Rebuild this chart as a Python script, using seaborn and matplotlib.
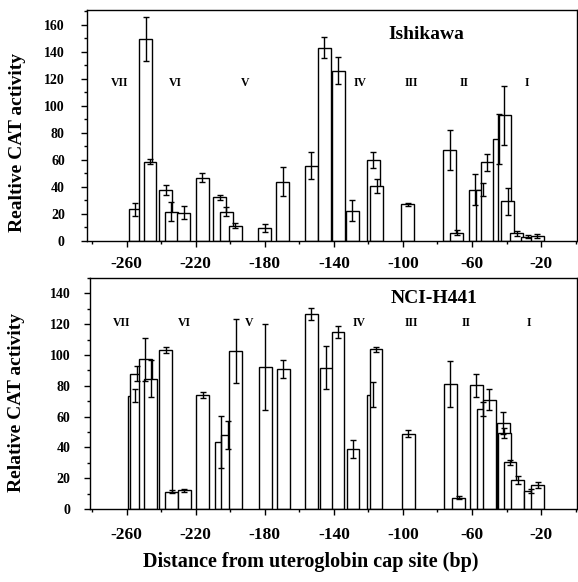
import matplotlib
matplotlib.use("Agg")
import matplotlib.pyplot as plt
import seaborn as sns
from matplotlib.ticker import MultipleLocator

# ---------------- data ----------------
top_pos = [-255.2, -249.1, -246.5, -237.3, -234.1, -226.9, -216.2, -206.1, -202.3, -197.1,
           -180.1, -169.7, -153.2, -145.7, -137.6, -129.5, -117.1, -115.3, -97.1, -72.8,
           -68.8, -58.1, -53.9, -51.3, -44.2, -41.3, -39.2, -34.1, -27.6, -22.1]
top_val = [23.5, 149.6, 58.8, 37.8, 21.7, 21.0, 47.0, 32.3, 21.7, 11.4,
           9.6, 44.0, 55.6, 143.2, 126.2, 22.5, 60.0, 40.7, 27.2, 67.4,
           6.2, 38.0, 38.0, 58.3, 75.3, 93.0, 29.6, 5.7, 3.2, 3.7]
top_err = [5, 16, 2, 3.5, 7, 5, 3, 2, 3.5, 2,
           3, 11, 10, 8, 10, 8, 6, 5, 1, 15,
           2, 11.5, 5, 6.4, 18.5, 21.8, 10, 2, 1.2, 1.8]

bot_pos = [-255.2, -254.0, -249.1, -246.0, -237.3, -233.8, -226.6, -215.9, -205.2, -201.4,
           -196.8, -179.8, -169.4, -153.2, -144.5, -137.6, -128.9, -117.3, -115.6, -96.8,
           -72.5, -67.6, -57.4, -53.6, -50.0, -42.0, -41.4, -38.0, -33.5, -26.0, -21.9]
bot_val = [73.7, 87.8, 97.1, 84.7, 103.0, 11.3, 12.1, 73.9, 43.3, 48.1,
           102.5, 92.1, 91.0, 126.8, 91.7, 115.1, 39.0, 74.3, 103.6, 49.0,
           81.3, 7.2, 80.2, 65.0, 70.9, 55.7, 49.4, 30.3, 18.9, 11.9, 15.6]
bot_err = [4, 5, 14, 12, 2, 1, 1, 2, 17, 9,
           21, 28, 6, 4, 14, 4, 6, 8, 1.5, 2,
           15, 1, 7.6, 4.3, 6.7, 7, 3, 1.5, 2.7, 1.3, 2]

regions = ["VII", "VI", "V", "IV", "III", "II", "I"]
top_region_x = [-263.9, -231.7, -191.6, -125.1, -95.3, -64.4, -28.0]
bot_region_x = [-262.9, -226.3, -189.1, -125.1, -95.3, -63.5, -26.9]

xticks = [-260, -220, -180, -140, -100, -60, -20]
top_title = "Ishikawa"
bot_title = "NCI-H441"
top_ylabel = "Realtive CAT activity"
bot_ylabel = "Relative CAT activity"
xlabel = "Distance from uteroglobin cap site (bp)"

# ---------------- style ----------------
sns.set_theme(style="ticks")
serif = ["Liberation Serif", "DejaVu Serif"]
plt.rcParams.update({
    "font.family": serif,
    "font.weight": "bold",
    "axes.unicode_minus": False,
    "text.color": "black",
    "axes.labelcolor": "black",
    "xtick.color": "black",
    "ytick.color": "black",
    "axes.edgecolor": "black",
})

fig = plt.figure(figsize=(5.78, 5.82), dpi=100)
W, H = 578, 582
ax1 = fig.add_axes([87 / W, (H - 241) / H, 490 / W, 231 / H])
ax2 = fig.add_axes([90 / W, (H - 509) / H, 487 / W, 231 / H])


def draw(ax, pos, val, err, rx, ry, title, tx, ty, ylabel, ylim, xlim, ypad, xpad):
    ax.bar(pos, val, width=7.5, color="white", edgecolor="black", linewidth=1.0,
           zorder=2)
    ax.errorbar(pos, val, yerr=err, fmt="none", ecolor="black", elinewidth=1.0,
                capsize=2.5, capthick=1.0, zorder=3)
    for lab, x in zip(regions, rx):
        ax.text(x, ry, lab, ha="center", va="center", fontsize=8.5,
                fontweight="bold", color="black")
    ax.text(tx, ty, title, transform=ax.transAxes, ha="center", va="center",
            fontsize=14, fontweight="bold", color="black")
    ax.set_xlim(*xlim)
    ax.set_ylim(*ylim)
    ax.set_xticks(xticks)
    ax.xaxis.set_minor_locator(MultipleLocator(20))
    ax.yaxis.set_major_locator(MultipleLocator(20))
    ax.yaxis.set_minor_locator(MultipleLocator(10))
    ax.tick_params(axis="x", which="major", direction="out", length=4, width=1,
                   labelsize=12.5, pad=xpad, colors="black")
    ax.tick_params(axis="x", which="minor", direction="out", length=2.5, width=1,
                   colors="black")
    ax.tick_params(axis="y", which="major", direction="out", length=4, width=1,
                   labelsize=10, pad=ypad, colors="black")
    ax.tick_params(axis="y", which="minor", direction="out", length=2.5, width=1,
                   colors="black")
    for lab in ax.get_xticklabels() + ax.get_yticklabels():
        lab.set_fontweight("bold")
    for sp in ax.spines.values():
        sp.set_visible(True)
        sp.set_color("black")
        sp.set_linewidth(1.0)
    ax.set_ylabel(ylabel, fontsize=14, fontweight="bold", color="black")
    ax.set_facecolor("white")


draw(ax1, top_pos, top_val, top_err, top_region_x, 117, top_title, 0.692, 0.892,
     top_ylabel, (0, 171), (-283, 0.8), 12, 7)
draw(ax2, bot_pos, bot_val, bot_err, bot_region_x, 121, bot_title, 0.706, 0.913,
     bot_ylabel, (0, 150), (-281.2, 0.8), 10, 9)

ax1.yaxis.set_label_coords((26 - 87) / 490, (241 - 142) / 231)
ax2.yaxis.set_label_coords((25 - 90) / 487, (509 - 402) / 231)

fig.text(311 / W, 1 - 562 / H, xlabel, ha="center", va="center", fontsize=14.5,
         fontweight="bold", color="black")

fig.savefig("out.png", dpi=100, facecolor="white")
